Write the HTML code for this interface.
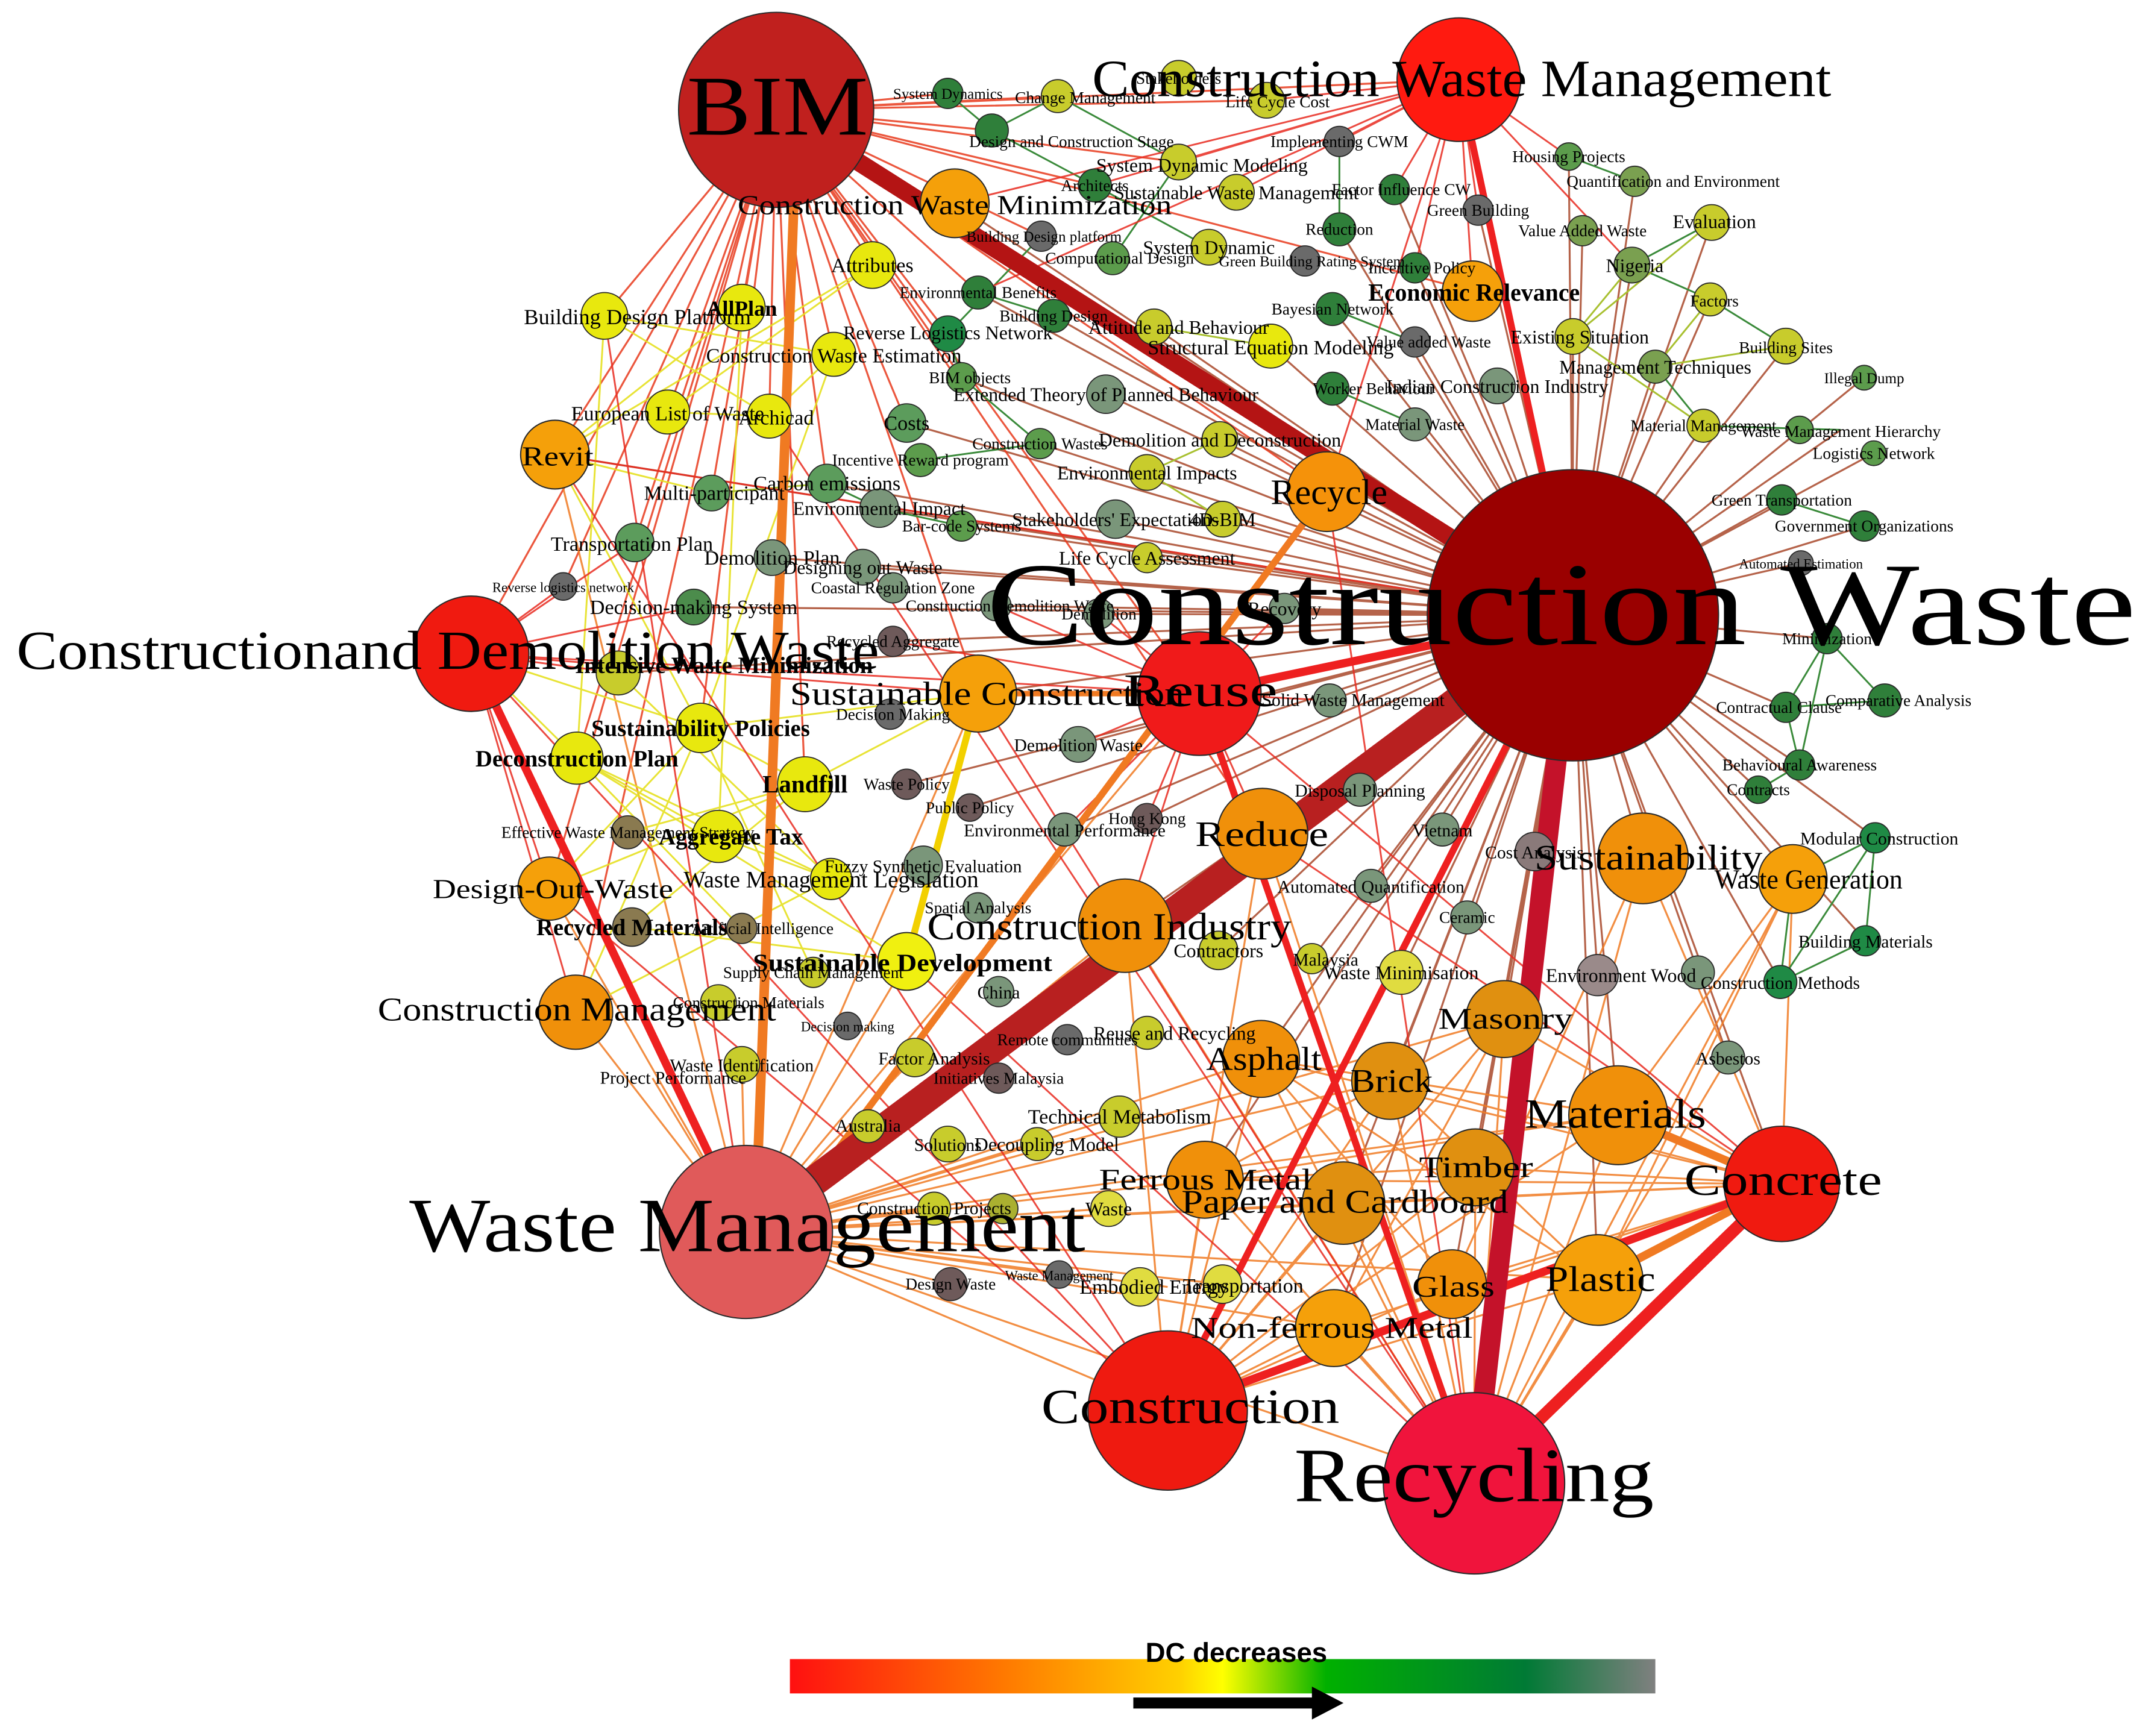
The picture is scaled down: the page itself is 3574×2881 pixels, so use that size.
<!DOCTYPE html>
<html><head><meta charset="utf-8"><style>
html,body{margin:0;padding:0;background:#fff;}
svg{display:block;}
text{font-family:"Liberation Serif",serif;fill:#000;}
</style></head><body>
<svg width="3574" height="2881" viewBox="0 0 1568 1264" preserveAspectRatio="none" xmlns="http://www.w3.org/2000/svg">
<defs>
<linearGradient id="lg" x1="0" x2="1" y1="0" y2="0">
<stop offset="0" stop-color="#ff1010"/><stop offset="0.25" stop-color="#ff7a00"/><stop offset="0.45" stop-color="#ffd000"/><stop offset="0.5" stop-color="#ffff00"/><stop offset="0.62" stop-color="#00b000"/><stop offset="0.85" stop-color="#007a35"/><stop offset="1" stop-color="#808080"/>
</linearGradient>
</defs>
<rect width="1568" height="1264" fill="#fff"/>
<!-- thin brown edges from Construction Waste -->
<path fill="none" stroke="#a8482a" stroke-width="1.4" stroke-opacity="0.85" d="M1145 448 L1076 153 M1145 448 L1030 195 M1145 448 L1015 138 M1145 448 L975 167 M1145 448 L970 225 M1145 448 L1030 249 M1145 448 L1090 281 M1145 448 L1030 309 M1145 448 L1145 245 M1145 448 L1205 267 M1145 448 L1240 310 M1145 448 L1297 364 M1145 448 L1357 383 M1145 448 L1311 410 M1145 448 L1330 465 M1145 448 L1300 515 M1145 448 L1310 557 M1145 448 L1280 575 M1145 448 L1365 610 M1145 448 L1305 640 M1145 448 L1196 625 M1145 448 L1117 620 M1145 448 L1050 604 M1145 448 L990 575 M1145 448 L998 645 M1145 448 L968 510 M1145 448 L935 443 M1145 448 L800 447 M1145 448 L835 406 M1145 448 L890 378 M1145 448 L812 378 M1145 448 L888 320 M1145 448 L757 323 M1145 448 L700 383 M1145 448 L640 370 M1145 448 L602 352 M1145 448 L660 308 M1145 448 L712 213 M1145 448 L767 230 M1145 448 L840 238 M1145 448 L925 252 M1145 448 L700 275 M1145 448 L805 287 M1145 448 L1246 162 M1145 448 L1188 193 M1145 448 L1142 114 M1145 448 L1190 132 M1145 448 L1152 168 M1145 448 L1245 218 M1145 448 L1300 252 M1145 448 L1357 275 M1145 448 L1340 313 M1145 448 L1364 330 M1145 448 L1258 770 M1145 448 L1163 710 M1145 448 L1296 715 M1145 448 L1358 685 M1145 448 L1068 668 M1145 448 L1020 708 M1145 448 L955 698 M1145 448 L887 692 M1145 448 L835 596 M1145 448 L775 604 M1145 448 L785 542 M1145 448 L660 571 M1145 448 L706 588 M1145 448 L650 467 M1145 448 L725 441 M1145 448 L628 413 M1145 448 L562 406 M1145 448 L505 442 M1145 448 L450 490 M1145 448 L404 331 M1145 448 L695 148 M1145 448 L712 505 M1145 448 L919 607 M1145 448 L819 674 M1145 448 L1095 742 M1145 448 L1178 812 M1145 448 L1012 787 M1145 448 L918 771 M1145 448 L1074 850 M1145 448 L978 876 M1145 448 L877 859 M1145 448 L1057 935 M1145 448 L1163 932 M1145 448 L971 967 M1145 448 L1297 862"/>
<!-- red edges from BIM -->
<path fill="none" stroke="#e83a1c" stroke-width="1.4" stroke-opacity="0.85" d="M565 80 L440 230 M565 80 L540 224 M565 80 L486 300 M565 80 L560 303 M565 80 L404 331 M565 80 L518 359 M565 80 L462 395 M565 80 L410 427 M565 80 L343 476 M565 80 L635 193 M565 80 L607 258 M565 80 L690 68 M565 80 L770 70 M565 80 L722 95 M565 80 L797 135 M565 80 L858 118 M565 80 L1062 58 M565 80 L758 172 M565 80 L712 213 M565 80 L690 243 M565 80 L700 275 M565 80 L660 308 M565 80 L602 352 M565 80 L712 505 M565 80 L586 571 M565 80 L510 530 M565 80 L420 552 M565 80 L400 647 M565 80 L419 737 M565 80 L873 505 M565 80 L919 607 M565 80 L966 358 M565 80 L1072 212 M565 80 L922 73"/>
<!-- orange edges lower right -->
<path fill="none" stroke="#f07a22" stroke-width="1.4" stroke-opacity="0.85" d="M1073 1080 L1095 742 M1073 1080 L1178 812 M1073 1080 L1012 787 M1073 1080 L918 771 M1073 1080 L1074 850 M1073 1080 L978 876 M1073 1080 L877 859 M1073 1080 L1057 935 M1073 1080 L1163 932 M1073 1080 L971 967 M1073 1080 L919 607 M1073 1080 L819 674 M1073 1080 L1196 625 M1073 1080 L1305 640 M1073 1080 L1258 770 M850 1027 L1095 742 M850 1027 L1178 812 M850 1027 L1012 787 M850 1027 L918 771 M850 1027 L1074 850 M850 1027 L978 876 M850 1027 L877 859 M850 1027 L1057 935 M850 1027 L1163 932 M850 1027 L971 967 M850 1027 L819 674 M850 1027 L919 607 M543 897 L877 859 M543 897 L978 876 M543 897 L850 1027 M543 897 L1073 1080 M543 897 L971 967 M543 897 L918 771 M543 897 L1012 787 M543 897 L1095 742 M543 897 L1178 812 M543 897 L1163 932 M543 897 L1297 862 M543 897 L819 674 M543 897 L919 607 M543 897 L873 505 M543 897 L712 505 M543 897 L660 700 M543 897 L632 820 M543 897 L680 880 M543 897 L692 935 M543 897 L771 928 M543 897 L850 937 M543 897 L890 935 M543 897 L807 880 M543 897 L755 833 M543 897 L815 813 M543 897 L666 770 M543 897 L540 775 M543 897 L475 785 M543 897 L419 737 M543 897 L400 647 M543 897 L404 331 M1297 862 L1178 812 M1297 862 L1163 932 M1297 862 L1057 935 M1297 862 L1074 850 M1297 862 L1095 742 M1297 862 L1012 787 M1297 862 L978 876 M1297 862 L877 859 M1297 862 L971 967 M1297 862 L918 771 M1297 862 L1196 625 M1297 862 L1305 640 M1178 812 L918 771 M1178 812 L877 859 M1095 742 L877 859 M1095 742 L971 967 M1012 787 L1163 932 M918 771 L1163 932 M1074 850 L877 859 M1057 935 L918 771 M1196 625 L1057 935 M1305 640 L1163 932 M1305 640 L1178 812"/>
<!-- yellow edges left cluster -->
<path fill="none" stroke="#e6e020" stroke-width="1.3" stroke-opacity="0.9" d="M440 230 L560 303 M540 224 L404 331 M486 300 L635 193 M560 303 L607 258 M404 331 L635 193 M440 230 L607 258 M510 530 L586 571 M420 552 L523 609 M510 530 L400 647 M586 571 L460 675 M523 609 L605 640 M420 552 L605 640 M457 606 L586 571 M510 530 L419 737 M450 490 L605 640 M420 552 L660 700 M400 647 L586 571 M343 476 L510 530 M343 476 L420 552 M712 505 L586 571 M712 505 L510 530 M404 331 L510 530 M440 230 L420 552 M540 224 L523 609 M607 258 L510 530 M486 300 L560 303 M518 359 L404 331 M460 675 L660 700 M419 737 L605 640 M540 676 L420 552 M592 708 L510 530"/>
<path fill="none" stroke="#f2d000" stroke-width="5" d="M712 505 L660 700"/>
<!-- green edges -->
<path fill="none" stroke="#3a8a3a" stroke-width="1.3" d="M690 68 L722 95 M722 95 L770 70 M770 70 L858 118 M722 95 L797 135 M797 135 L880 180 M810 188 L858 118 M712 213 L767 230 M690 243 L700 275 M700 275 L757 323 M757 323 L670 335 M602 352 L640 370 M640 370 L700 383 M970 225 L1030 249 M970 283 L1030 309 M1297 364 L1357 383 M1330 465 L1372 510 M1372 510 L1300 515 M1300 515 L1310 557 M1310 557 L1280 575 M1330 465 L1310 557 M1365 610 L1358 685 M1305 640 L1365 610 M1305 640 L1296 715 M1296 715 L1358 685 M1365 610 L1296 715 M1142 114 L1190 132 M1246 162 L1188 193 M1188 193 L1245 218 M1245 218 L1300 252 M1205 267 L1240 310 M1240 310 L1340 313 M975 167 L975 103 M690 243 L758 172 M1330 465 L1300 515"/>
<path fill="none" stroke="#a8c030" stroke-width="1.3" d="M1246 162 L1145 245 M1205 267 L1300 252 M1145 245 L1240 310 M925 252 L840 238 M835 344 L888 320 M835 344 L890 378 M602 352 L518 359 M1188 193 L1145 245 M1245 218 L1205 267"/>
<!-- red thin misc -->
<path fill="none" stroke="#e82a20" stroke-width="1.3" stroke-opacity="0.85" d="M343 476 L462 395 M343 476 L410 427 M343 476 L505 442 M343 476 L450 490 M343 476 L400 647 M343 476 L419 737 M343 476 L873 505 M343 476 L712 505 M873 505 L785 542 M873 505 L835 596 M873 505 L775 604 M873 505 L919 607 M873 505 L819 674 M873 505 L968 510 M873 505 L650 467 M873 505 L725 441 M873 505 L800 447 M873 505 L935 443 M1062 58 L1076 153 M1062 58 L1030 195 M1062 58 L975 103 M1062 58 L922 73 M1062 58 L1015 138 M1062 58 L858 118 M1062 58 L1188 193 M1062 58 L1142 114 M1062 58 L695 148 M1062 58 L966 358 M1062 58 L1072 212 M1062 58 L900 140 M1062 58 L797 135 M1062 58 L712 213 M404 331 L1145 448 M343 476 L850 1027 M404 331 L850 1027 M400 647 L850 1027 M543 897 L1145 448 M966 358 L1073 1080 M712 505 L1073 1080 M919 607 L1297 862 M873 505 L1297 862 M560 303 L1073 1080 M440 230 L543 897 M660 700 L1073 1080"/>
<!-- thick edges -->
<path fill="none" stroke="#f07a22" stroke-width="7" d="M578 145 L552 836"/>
<path fill="none" stroke="#f07a22" stroke-width="5" d="M966 358 L600 850"/>
<path fill="none" stroke="#f07a22" stroke-width="4" d="M712 505 L873 505"/>
<path fill="none" stroke="#ee2020" stroke-width="6" d="M343 476 L543 897"/>
<path fill="none" stroke="#ee2020" stroke-width="5" d="M873 505 L1073 1080 M1062 58 L1145 448 M850 1027 L1145 448"/>
<path fill="none" stroke="#ee2020" stroke-width="9" d="M1297 862 L1073 1080"/>
<path fill="none" stroke="#ee2020" stroke-width="6" d="M1297 862 L850 1027 M873 505 L1145 448"/>
<path fill="none" stroke="#b41414" stroke-width="13" d="M565 80 L1145 448"/>
<path fill="none" stroke="#b82020" stroke-width="22" d="M543 897 L1145 448"/>
<path fill="none" stroke="#c4122a" stroke-width="15" d="M1073 1080 L1145 448"/>
<path fill="none" stroke="#f07a22" stroke-width="6" d="M1163 932 L1297 862 M1178 812 L1297 862"/>

<!-- small nodes -->
<g stroke="#2a2a2a" stroke-width="0.8">
<circle cx="690" cy="68" r="11" fill="#2f7f3a"/>
<circle cx="770" cy="70" r="12" fill="#c8cc2c"/>
<circle cx="858" cy="57" r="13" fill="#c8cc2c"/>
<circle cx="922" cy="73" r="13" fill="#c8cc2c"/>
<circle cx="975" cy="103" r="11" fill="#6a6a6a"/>
<circle cx="722" cy="95" r="12" fill="#2f7f3a"/>
<circle cx="858" cy="118" r="13" fill="#c8cc2c"/>
<circle cx="797" cy="135" r="12" fill="#2f7f3a"/>
<circle cx="900" cy="140" r="13" fill="#c8cc2c"/>
<circle cx="1015" cy="138" r="11" fill="#2f7f3a"/>
<circle cx="1076" cy="153" r="11" fill="#6a6a6a"/>
<circle cx="1142" cy="114" r="10" fill="#5c9c4c"/>
<circle cx="1190" cy="132" r="11" fill="#7aa050"/>
<circle cx="1246" cy="162" r="13" fill="#c8cc2c"/>
<circle cx="1152" cy="168" r="11" fill="#7aa050"/>
<circle cx="1188" cy="193" r="13" fill="#7aa050"/>
<circle cx="975" cy="167" r="12" fill="#2f7f3a"/>
<circle cx="758" cy="172" r="11" fill="#6a6a6a"/>
<circle cx="880" cy="180" r="13" fill="#c8cc2c"/>
<circle cx="810" cy="188" r="12" fill="#5c9c4c"/>
<circle cx="950" cy="190" r="11" fill="#6a6a6a"/>
<circle cx="1030" cy="195" r="11" fill="#2f7f3a"/>
<circle cx="712" cy="213" r="12" fill="#2f7f3a"/>
<circle cx="635" cy="193" r="17" fill="#e8e80e"/>
<circle cx="1245" cy="218" r="12" fill="#c8cc2c"/>
<circle cx="440" cy="230" r="17" fill="#e8e80e"/>
<circle cx="540" cy="224" r="17" fill="#e8e80e"/>
<circle cx="767" cy="230" r="12" fill="#2f7f3a"/>
<circle cx="970" cy="225" r="12" fill="#2f7f3a"/>
<circle cx="840" cy="238" r="13" fill="#c8cc2c"/>
<circle cx="690" cy="243" r="13" fill="#1f8a45"/>
<circle cx="607" cy="258" r="16" fill="#e8e80e"/>
<circle cx="925" cy="252" r="16" fill="#e8e80e"/>
<circle cx="1030" cy="249" r="11" fill="#6a6a6a"/>
<circle cx="1145" cy="245" r="13" fill="#c8cc2c"/>
<circle cx="1300" cy="252" r="13" fill="#c8cc2c"/>
<circle cx="1205" cy="267" r="12" fill="#7aa050"/>
<circle cx="1357" cy="275" r="9" fill="#5c9c4c"/>
<circle cx="700" cy="275" r="11" fill="#5c9c4c"/>
<circle cx="805" cy="287" r="14" fill="#7a967a"/>
<circle cx="970" cy="283" r="12" fill="#2f7f3a"/>
<circle cx="1090" cy="281" r="13" fill="#7a967a"/>
<circle cx="486" cy="300" r="16" fill="#e8e80e"/>
<circle cx="560" cy="303" r="16" fill="#e8e80e"/>
<circle cx="660" cy="308" r="14" fill="#5c9c5c"/>
<circle cx="1030" cy="309" r="12" fill="#7a967a"/>
<circle cx="1240" cy="310" r="12" fill="#c8cc2c"/>
<circle cx="1310" cy="313" r="10" fill="#5c9c4c"/>
<circle cx="1364" cy="330" r="9" fill="#5c9c4c"/>
<circle cx="888" cy="320" r="13" fill="#c8cc2c"/>
<circle cx="757" cy="323" r="11" fill="#5c9c4c"/>
<circle cx="670" cy="335" r="12" fill="#5c9c4c"/>
<circle cx="835" cy="344" r="13" fill="#c8cc2c"/>
<circle cx="518" cy="359" r="13" fill="#5c9c5c"/>
<circle cx="602" cy="352" r="14" fill="#5c9c5c"/>
<circle cx="640" cy="370" r="14" fill="#7a967a"/>
<circle cx="812" cy="378" r="14" fill="#7a967a"/>
<circle cx="890" cy="378" r="13" fill="#c8cc2c"/>
<circle cx="1297" cy="364" r="11" fill="#2f7f3a"/>
<circle cx="1357" cy="383" r="11" fill="#2f7f3a"/>
<circle cx="700" cy="383" r="11" fill="#5c9c4c"/>
<circle cx="462" cy="395" r="14" fill="#5c9c5c"/>
<circle cx="562" cy="406" r="13" fill="#7a967a"/>
<circle cx="835" cy="406" r="11" fill="#c8cc2c"/>
<circle cx="628" cy="413" r="13" fill="#7a967a"/>
<circle cx="1311" cy="410" r="9" fill="#6a6a6a"/>
<circle cx="410" cy="427" r="10" fill="#6a6a6a"/>
<circle cx="650" cy="428" r="11" fill="#7a967a"/>
<circle cx="505" cy="442" r="13" fill="#4c8c4c"/>
<circle cx="725" cy="441" r="11" fill="#7a967a"/>
<circle cx="800" cy="447" r="11" fill="#7a967a"/>
<circle cx="935" cy="443" r="11" fill="#7a967a"/>
<circle cx="650" cy="467" r="11" fill="#6e5a5a"/>
<circle cx="1330" cy="465" r="11" fill="#2f7f3a"/>
<circle cx="450" cy="490" r="16" fill="#c8cc2c"/>
<circle cx="1372" cy="510" r="12" fill="#2f7f3a"/>
<circle cx="968" cy="510" r="12" fill="#7a967a"/>
<circle cx="1300" cy="515" r="11" fill="#2f7f3a"/>
<circle cx="648" cy="520" r="11" fill="#6a6a6a"/>
<circle cx="510" cy="530" r="18" fill="#e8e80e"/>
<circle cx="785" cy="542" r="13" fill="#7a967a"/>
<circle cx="420" cy="552" r="19" fill="#e8e80e"/>
<circle cx="1310" cy="557" r="11" fill="#2f7f3a"/>
<circle cx="586" cy="571" r="20" fill="#e8e80e"/>
<circle cx="660" cy="571" r="11" fill="#6e5a5a"/>
<circle cx="1280" cy="575" r="10" fill="#2f7f3a"/>
<circle cx="990" cy="575" r="12" fill="#7a967a"/>
<circle cx="706" cy="588" r="10" fill="#6e5a5a"/>
<circle cx="835" cy="596" r="11" fill="#6e5a5a"/>
<circle cx="457" cy="606" r="12" fill="#8a7a50"/>
<circle cx="523" cy="609" r="19" fill="#e8e80e"/>
<circle cx="775" cy="604" r="12" fill="#7a967a"/>
<circle cx="1050" cy="604" r="12" fill="#7a967a"/>
<circle cx="1117" cy="620" r="14" fill="#8a7a7a"/>
<circle cx="1365" cy="610" r="11" fill="#1f8a45"/>
<circle cx="672" cy="630" r="14" fill="#7a967a"/>
<circle cx="605" cy="640" r="15" fill="#e8e80e"/>
<circle cx="998" cy="645" r="12" fill="#7a967a"/>
<circle cx="712" cy="661" r="11" fill="#7a967a"/>
<circle cx="1068" cy="668" r="12" fill="#7a967a"/>
<circle cx="460" cy="675" r="14" fill="#8a7a50"/>
<circle cx="540" cy="676" r="11" fill="#8a7a50"/>
<circle cx="1358" cy="685" r="11" fill="#1f8a45"/>
<circle cx="887" cy="692" r="14" fill="#c8cc2c"/>
<circle cx="955" cy="698" r="11" fill="#c8cc2c"/>
<circle cx="592" cy="708" r="11" fill="#c8cc2c"/>
<circle cx="1020" cy="708" r="16" fill="#e0dc40"/>
<circle cx="1163" cy="710" r="15" fill="#9a8a8a"/>
<circle cx="1236" cy="708" r="12" fill="#7a967a"/>
<circle cx="1296" cy="715" r="12" fill="#1f8a45"/>
<circle cx="727" cy="722" r="11" fill="#7a967a"/>
<circle cx="523" cy="730" r="13" fill="#c8cc2c"/>
<circle cx="617" cy="747" r="10" fill="#6a6a6a"/>
<circle cx="835" cy="752" r="12" fill="#c8cc2c"/>
<circle cx="777" cy="757" r="11" fill="#6a6a6a"/>
<circle cx="1258" cy="770" r="12" fill="#7a967a"/>
<circle cx="540" cy="775" r="13" fill="#c8cc2c"/>
<circle cx="666" cy="770" r="14" fill="#c8cc2c"/>
<circle cx="727" cy="785" r="11" fill="#6e5a5a"/>
<circle cx="815" cy="813" r="15" fill="#c8cc2c"/>
<circle cx="632" cy="820" r="12" fill="#c8cc2c"/>
<circle cx="690" cy="833" r="13" fill="#c8cc2c"/>
<circle cx="755" cy="833" r="12" fill="#c8cc2c"/>
<circle cx="680" cy="880" r="12" fill="#c8cc2c"/>
<circle cx="730" cy="880" r="11" fill="#aab030"/>
<circle cx="807" cy="880" r="13" fill="#e0dc40"/>
<circle cx="692" cy="935" r="12" fill="#6e5a5a"/>
<circle cx="771" cy="928" r="10" fill="#6a6a6a"/>
<circle cx="830" cy="937" r="14" fill="#e0dc40"/>
<circle cx="890" cy="935" r="14" fill="#e0dc40"/>
<circle cx="1050" cy="200" r="0" fill="none"/>
</g>
<!-- medium / large nodes -->
<g stroke="#2a2a2a" stroke-width="0.9">
<circle cx="695" cy="148" r="25" fill="#f5a00a"/>
<circle cx="404" cy="331" r="25" fill="#f5a00a"/>
<circle cx="1072" cy="212" r="22" fill="#f5a00a"/>
<circle cx="966" cy="358" r="29" fill="#f5920a"/>
<circle cx="712" cy="505" r="28" fill="#f5a00a"/>
<circle cx="400" cy="647" r="23" fill="#f5a00a"/>
<circle cx="419" cy="737" r="27" fill="#f0900a"/>
<circle cx="660" cy="700" r="21" fill="#f0f010"/>
<circle cx="919" cy="607" r="33" fill="#f0900a"/>
<circle cx="819" cy="674" r="34" fill="#f0900a"/>
<circle cx="1196" cy="625" r="33" fill="#f0900a"/>
<circle cx="1305" cy="640" r="25" fill="#f5a00a"/>
<circle cx="1095" cy="742" r="28" fill="#e09010"/>
<circle cx="1178" cy="812" r="36" fill="#f0900a"/>
<circle cx="1012" cy="787" r="28" fill="#e09010"/>
<circle cx="918" cy="771" r="28" fill="#f0900a"/>
<circle cx="1074" cy="850" r="28" fill="#e09010"/>
<circle cx="978" cy="876" r="30" fill="#e09010"/>
<circle cx="877" cy="859" r="28" fill="#f0900a"/>
<circle cx="1057" cy="935" r="25" fill="#f0900a"/>
<circle cx="1163" cy="932" r="33" fill="#f5a00a"/>
<circle cx="971" cy="967" r="28" fill="#f5a00a"/>
<circle cx="873" cy="505" r="45" fill="#f01a1a"/>
<circle cx="1297" cy="862" r="42" fill="#f01a10"/>
<circle cx="850" cy="1027" r="58" fill="#ef1a10"/>
<circle cx="343" cy="476" r="42" fill="#f01a10"/>
<circle cx="1062" cy="58" r="45" fill="#ff1a10"/>
<circle cx="565" cy="80" r="71" fill="#c0201e"/>
<circle cx="543" cy="897" r="63" fill="#e05a5a"/>
<circle cx="1073" cy="1080" r="66" fill="#f0143c"/>
<circle cx="1145" cy="448" r="106" fill="#9a0000"/>
</g>

<!-- small labels -->
<g font-size="12" text-anchor="middle">
<text x="690" y="72" font-size="11">System Dynamics</text>
<text x="790" y="75">Change Management</text>
<text x="858" y="61">Stakeholders</text>
<text x="930" y="78">Life Cycle Cost</text>
<text x="975" y="107">Implementing CWM</text>
<text x="780" y="107">Design and Construction Stage</text>
<text x="875" y="125" font-size="14">System Dynamic Modeling</text>
<text x="797" y="139">Architects</text>
<text x="900" y="145" font-size="14">Sustainable Waste Management</text>
<text x="1020" y="142">Factor Influence CW</text>
<text x="1076" y="157">Green Building</text>
<text x="1142" y="118">Housing Projects</text>
<text x="1218" y="136">Quantification and Environment</text>
<text x="1248" y="166" font-size="14">Evaluation</text>
<text x="1152" y="172">Value Added Waste</text>
<text x="1190" y="198" font-size="14">Nigeria</text>
<text x="975" y="171">Reduction</text>
<text x="760" y="176" font-size="11">Building Design platform</text>
<text x="880" y="185" font-size="14">System Dynamic</text>
<text x="815" y="192">Computational Design</text>
<text x="955" y="194" font-size="11">Green Building Rating System</text>
<text x="1035" y="199">Incentive Policy</text>
<text x="712" y="217">Environmental Benefits</text>
<text x="635" y="198" font-size="15">Attributes</text>
<text x="1248" y="223">Factors</text>
<text x="464" y="236" font-size="16">Building Design Platform</text>
<text x="540" y="230" font-size="16" font-weight="bold">AllPlan</text>
<text x="767" y="234">Building Design</text>
<text x="970" y="229">Bayesian Network</text>
<text x="858" y="243" font-size="14">Attitude and Behaviour</text>
<text x="690" y="247" font-size="14">Reverse Logistics Network</text>
<text x="607" y="264" font-size="15">Construction Waste Estimation</text>
<text x="925" y="258" font-size="15">Structural Equation Modeling</text>
<text x="1040" y="253">Value added Waste</text>
<text x="1150" y="250" font-size="14">Existing Situation</text>
<text x="1300" y="257">Building Sites</text>
<text x="1205" y="272" font-size="14">Management Techniques</text>
<text x="1357" y="279" font-size="11">Illegal Dump</text>
<text x="706" y="279">BIM objects</text>
<text x="805" y="292" font-size="14">Extended Theory of Planned Behaviour</text>
<text x="1000" y="287">Worker Behaviour</text>
<text x="1090" y="286" font-size="14">Indian Construction Industry</text>
<text x="486" y="306" font-size="15">European List of Waste</text>
<text x="565" y="309" font-size="15">Archicad</text>
<text x="660" y="313" font-size="15">Costs</text>
<text x="1030" y="313">Material Waste</text>
<text x="1240" y="314">Material Management</text>
<text x="1340" y="318">Waste Management Hierarchy</text>
<text x="1364" y="334">Logistics Network</text>
<text x="888" y="325" font-size="14">Demolition and Deconstruction</text>
<text x="757" y="327">Construction Wastes</text>
<text x="670" y="339">Incentive Reward program</text>
<text x="835" y="349" font-size="14">Environmental Impacts</text>
<text x="520" y="364" font-size="15">Multi-participant</text>
<text x="602" y="357" font-size="15">Carbon emissions</text>
<text x="640" y="375" font-size="14">Environmental Impact</text>
<text x="1297" y="368">Green Transportation</text>
<text x="1357" y="387">Government Organizations</text>
<text x="812" y="383" font-size="14">Stakeholders' Expectations</text>
<text x="890" y="383" font-size="14">4D-BIM</text>
<text x="700" y="387">Bar-code Systems</text>
<text x="460" y="401" font-size="15">Transportation Plan</text>
<text x="562" y="411" font-size="15">Demolition Plan</text>
<text x="835" y="411" font-size="14">Life Cycle Assessment</text>
<text x="628" y="418" font-size="14">Designing out Waste</text>
<text x="1311" y="414" font-size="10">Automated Estimation</text>
<text x="410" y="431" font-size="10">Reverse logistics network</text>
<text x="650" y="432">Coastal Regulation Zone</text>
<text x="505" y="447" font-size="15">Decision-making System</text>
<text x="735" y="445">Construction Demolition Waste</text>
<text x="800" y="451">Demolition</text>
<text x="935" y="448" font-size="14">Recovery</text>
<text x="650" y="471">Recycled Aggregate</text>
<text x="1330" y="469">Minimization</text>
<text x="527" y="490" font-size="17" font-weight="bold">Intensive Waste Minimization</text>
<text x="1382" y="514">Comparative Analysis</text>
<text x="985" y="514" font-size="13">Solid Waste Management</text>
<text x="1295" y="519">Contractual Clause</text>
<text x="650" y="524">Decision Making</text>
<text x="510" y="536" font-size="17" font-weight="bold">Sustainability Policies</text>
<text x="785" y="547" font-size="13">Demolition Waste</text>
<text x="420" y="558" font-size="17" font-weight="bold">Deconstruction Plan</text>
<text x="1310" y="561">Behavioural Awareness</text>
<text x="586" y="577" font-size="18" font-weight="bold">Landfill</text>
<text x="660" y="575">Waste Policy</text>
<text x="1280" y="579">Contracts</text>
<text x="990" y="580" font-size="13">Disposal Planning</text>
<text x="706" y="592">Public Policy</text>
<text x="835" y="600">Hong Kong</text>
<text x="457" y="610">Effective Waste Management Strategy</text>
<text x="532" y="615" font-size="17" font-weight="bold">Aggregate Tax</text>
<text x="775" y="609" font-size="13">Environmental Performance</text>
<text x="1050" y="609" font-size="13">Vietnam</text>
<text x="1368" y="615" font-size="13">Modular Construction</text>
<text x="1117" y="625" font-size="13">Cost Analysis</text>
<text x="672" y="635" font-size="13">Fuzzy Synthetic Evaluation</text>
<text x="605" y="646" font-size="17">Waste Management Legislation</text>
<text x="998" y="650" font-size="13">Automated Quantification</text>
<text x="712" y="665">Spatial Analysis</text>
<text x="1068" y="672">Ceramic</text>
<text x="460" y="681" font-size="17" font-weight="bold">Recycled Materials</text>
<text x="555" y="680">Artificial Intelligence</text>
<text x="1358" y="690" font-size="13">Building Materials</text>
<text x="887" y="697" font-size="14">Contractors</text>
<text x="965" y="703" font-size="13">Malaysia</text>
<text x="592" y="712">Supply Chain Management</text>
<text x="1020" y="713" font-size="14">Waste Minimisation</text>
<text x="1180" y="715" font-size="14">Environment Wood</text>
<text x="1296" y="720" font-size="13">Construction Methods</text>
<text x="727" y="727" font-size="13">China</text>
<text x="545" y="734">Construction Materials</text>
<text x="617" y="751" font-size="10">Decision making</text>
<text x="855" y="757" font-size="14">Reuse and Recycling</text>
<text x="777" y="761">Remote communities</text>
<text x="1258" y="775" font-size="13">Asbestos</text>
<text x="540" y="780" font-size="13">Waste Identification</text>
<text x="680" y="775" font-size="13">Factor Analysis</text>
<text x="727" y="789">Initiatives Malaysia</text>
<text x="490" y="789" font-size="13">Project Performance</text>
<text x="815" y="818" font-size="15">Technical Metabolism</text>
<text x="632" y="824" font-size="13">Australia</text>
<text x="690" y="838" font-size="13">Solutions</text>
<text x="762" y="838" font-size="14">Decoupling Model</text>
<text x="680" y="884" font-size="13">Construction Projects</text>
<text x="807" y="885" font-size="14">Waste</text>
<text x="692" y="939">Design Waste</text>
<text x="771" y="932" font-size="10">Waste Management</text>
<text x="840" y="942" font-size="15">Embodied Energy</text>
<text x="905" y="941" font-size="15">Transportation</text>
</g>

<!-- medium labels -->
<g>
<text x="537" y="156" font-size="20" textLength="316" lengthAdjust="spacingAndGlyphs">Construction Waste Minimization</text>
<text x="380" y="339" font-size="20" textLength="52" lengthAdjust="spacingAndGlyphs">Revit</text>
<text x="996" y="219" font-size="18" font-weight="bold" textLength="154" lengthAdjust="spacingAndGlyphs">Economic Relevance</text>
<text x="925" y="367" font-size="26" textLength="85" lengthAdjust="spacingAndGlyphs">Recycle</text>
<text x="575" y="513" font-size="24" textLength="287" lengthAdjust="spacingAndGlyphs">Sustainable Construction</text>
<text x="315" y="654" font-size="20" textLength="175" lengthAdjust="spacingAndGlyphs">Design-Out-Waste</text>
<text x="275" y="743" font-size="24" textLength="290" lengthAdjust="spacingAndGlyphs">Construction Management</text>
<text x="548" y="707" font-size="18" font-weight="bold" textLength="218" lengthAdjust="spacingAndGlyphs">Sustainable Development</text>
<text x="870" y="616" font-size="26" textLength="97" lengthAdjust="spacingAndGlyphs">Reduce</text>
<text x="675" y="684" font-size="28" textLength="265" lengthAdjust="spacingAndGlyphs">Construction Industry</text>
<text x="1117" y="633" font-size="26" textLength="166" lengthAdjust="spacingAndGlyphs">Sustainability</text>
<text x="1248" y="647" font-size="20" textLength="137" lengthAdjust="spacingAndGlyphs">Waste Generation</text>
<text x="1047" y="749" font-size="22" textLength="98" lengthAdjust="spacingAndGlyphs">Masonry</text>
<text x="1110" y="821" font-size="30" textLength="132" lengthAdjust="spacingAndGlyphs">Materials</text>
<text x="983" y="795" font-size="24" textLength="60" lengthAdjust="spacingAndGlyphs">Brick</text>
<text x="878" y="779" font-size="24" textLength="84" lengthAdjust="spacingAndGlyphs">Asphalt</text>
<text x="1033" y="857" font-size="22" textLength="83" lengthAdjust="spacingAndGlyphs">Timber</text>
<text x="860" y="883" font-size="24" textLength="238" lengthAdjust="spacingAndGlyphs">Paper and Cardboard</text>
<text x="800" y="866" font-size="22" textLength="155" lengthAdjust="spacingAndGlyphs">Ferrous Metal</text>
<text x="1028" y="944" font-size="22" textLength="60" lengthAdjust="spacingAndGlyphs">Glass</text>
<text x="1125" y="940" font-size="26" textLength="80" lengthAdjust="spacingAndGlyphs">Plastic</text>
<text x="867" y="974" font-size="22" textLength="205" lengthAdjust="spacingAndGlyphs">Non-ferrous Metal</text>
</g>
<!-- big labels -->
<g>
<text x="500" y="98" font-size="62" textLength="132" lengthAdjust="spacingAndGlyphs">BIM</text>
<text x="795" y="70" font-size="38" textLength="538" lengthAdjust="spacingAndGlyphs">Construction Waste Management</text>
<text x="818" y="514" font-size="34" textLength="112" lengthAdjust="spacingAndGlyphs">Reuse</text>
<text x="1226" y="870" font-size="32" textLength="144" lengthAdjust="spacingAndGlyphs">Concrete</text>
<text x="758" y="1036" font-size="36" textLength="217" lengthAdjust="spacingAndGlyphs">Construction</text>
<text x="12" y="487" font-size="40" textLength="628" lengthAdjust="spacingAndGlyphs">Constructionand Demolition Waste</text>
<text x="298" y="911" font-size="56" textLength="492" lengthAdjust="spacingAndGlyphs">Waste Management</text>
<text x="942" y="1093" font-size="56" textLength="262" lengthAdjust="spacingAndGlyphs">Recycling</text>
<text x="718" y="469" font-size="86" textLength="837" lengthAdjust="spacingAndGlyphs">Construction Waste</text>
</g>

<!-- legend -->
<rect x="575" y="1208" width="630" height="25" fill="url(#lg)"/>
<text x="900" y="1210" text-anchor="middle" font-size="20" font-weight="bold" style="font-family:'Liberation Sans',sans-serif">DC decreases</text>
<path d="M825 1236 L958 1236 L958 1244 L825 1244 Z" fill="#000"/>
<path d="M955 1228 L978 1240 L955 1252 Z" fill="#000"/>
</svg>
</body></html>
